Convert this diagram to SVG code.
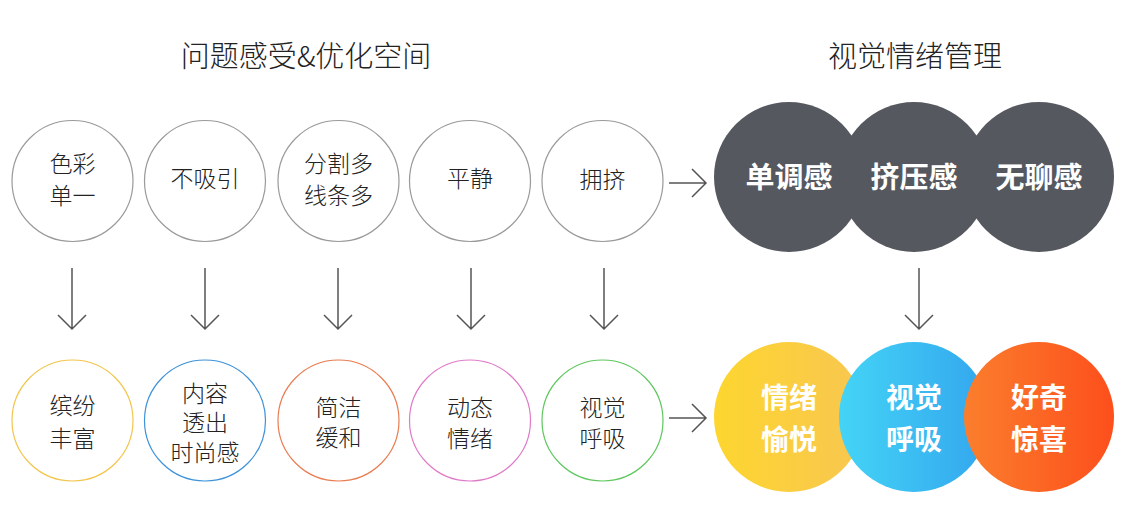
<svg xmlns="http://www.w3.org/2000/svg" width="1125" height="524" viewBox="0 0 1125 524">
<style>
.t{font-family:"Noto Sans CJK SC","Noto Sans",sans-serif;font-weight:300;fill:#222;text-anchor:middle}
.title{font-size:29px}
.s{font-size:23px}
.b{font-family:"Noto Sans CJK SC","Noto Sans",sans-serif;font-weight:700;fill:#fff;text-anchor:middle;font-size:28px}
.c{fill:#fff;stroke-width:1.2}
.g{stroke:#9a9a9a}
.a{fill:none;stroke:#555;stroke-width:1.5}
.dk{fill:#55585e}
</style>
<defs>
<linearGradient id="gy" x1="0" y1="0" x2="1" y2="0"><stop offset="0" stop-color="#fdd62f"/><stop offset="1" stop-color="#f8c651"/></linearGradient>
<linearGradient id="gb" x1="0" y1="0" x2="1" y2="0"><stop offset="0" stop-color="#44d4f6"/><stop offset="1" stop-color="#33a6ee"/></linearGradient>
<linearGradient id="go" x1="0" y1="0" x2="1" y2="0"><stop offset="0" stop-color="#fb7e2d"/><stop offset="1" stop-color="#fd4f1c"/></linearGradient>
</defs>
<rect width="1125" height="524" fill="#fff"/>
<text class="t title" x="306" y="67">问题感受&amp;优化空间</text>
<text class="t title" x="915" y="67">视觉情绪管理</text>

<g id="n1"><circle class="c g" cx="72.5" cy="181" r="60.5"/><text class="t s" x="72.5" y="172">色彩</text><text class="t s" x="72.5" y="204">单一</text></g>
<g id="n2"><circle class="c g" cx="205" cy="181" r="60.5"/><text class="t s" x="205" y="187">不吸引</text></g>
<g id="n3"><circle class="c g" cx="338.5" cy="181" r="60.5"/><text class="t s" x="338.5" y="172">分割多</text><text class="t s" x="338.5" y="204">线条多</text></g>
<g id="n4"><circle class="c g" cx="470" cy="181" r="60.5"/><text class="t s" x="470" y="187">平静</text></g>
<g id="n5"><circle class="c g" cx="602.5" cy="181" r="60.5"/><text class="t s" x="602.5" y="188">拥挤</text></g>

<g id="d1"><circle class="dk" cx="789" cy="177" r="75"/><text class="b" x="789" y="188" style="font-size:29px">单调感</text></g>
<g id="d2"><circle class="dk" cx="914" cy="177" r="75"/><text class="b" x="914" y="188" style="font-size:29px">挤压感</text></g>
<g id="d3"><circle class="dk" cx="1039" cy="177" r="75"/><text class="b" x="1039" y="188" style="font-size:29px">无聊感</text></g>

<g id="m1"><circle class="c" stroke="#f2c54c" cx="72.5" cy="420.5" r="60.5"/><text class="t s" x="72.5" y="414">缤纷</text><text class="t s" x="72.5" y="447">丰富</text></g>
<g id="m2"><circle class="c" stroke="#3d92d9" cx="205" cy="420.5" r="60.5"/><text class="t s" x="205" y="402">内容</text><text class="t s" x="205" y="431">透出</text><text class="t s" x="205" y="461">时尚感</text></g>
<g id="m3"><circle class="c" stroke="#ea7c50" cx="338.5" cy="420.5" r="60.5"/><text class="t s" x="338.5" y="416">简洁</text><text class="t s" x="338.5" y="446">缓和</text></g>
<g id="m4"><circle class="c" stroke="#e07bc8" cx="470" cy="420.5" r="60.5"/><text class="t s" x="470" y="416">动态</text><text class="t s" x="470" y="447">情绪</text></g>
<g id="m5"><circle class="c" stroke="#5ec75e" cx="602.5" cy="420.5" r="60.5"/><text class="t s" x="602.5" y="416">视觉</text><text class="t s" x="602.5" y="447">呼吸</text></g>

<g id="e1"><circle fill="url(#gy)" cx="789" cy="417" r="75"/><text class="b" x="789" y="408">情绪</text><text class="b" x="789" y="450">愉悦</text></g>
<g id="e2"><circle fill="url(#gb)" cx="914" cy="417" r="75"/><text class="b" x="914" y="408">视觉</text><text class="b" x="914" y="450">呼吸</text></g>
<g id="e3"><circle fill="url(#go)" cx="1039" cy="417" r="75"/><text class="b" x="1039" y="408">好奇</text><text class="b" x="1039" y="450">惊喜</text></g>

<g id="connectors">
<path class="a" d="M669 183H706M692 169L706 183L692 197"/>
<path class="a" d="M669 418H706M692 404L706 418L692 432"/>
<path class="a" d="M72 268V329M58 315L72 329L86 315"/>
<path class="a" d="M205 268V329M191 315L205 329L219 315"/>
<path class="a" d="M338 268V329M324 315L338 329L352 315"/>
<path class="a" d="M471 268V329M457 315L471 329L485 315"/>
<path class="a" d="M604 268V329M590 315L604 329L618 315"/>
<path class="a" d="M919 268V329M905 315L919 329L933 315"/>
</g>
</svg>
